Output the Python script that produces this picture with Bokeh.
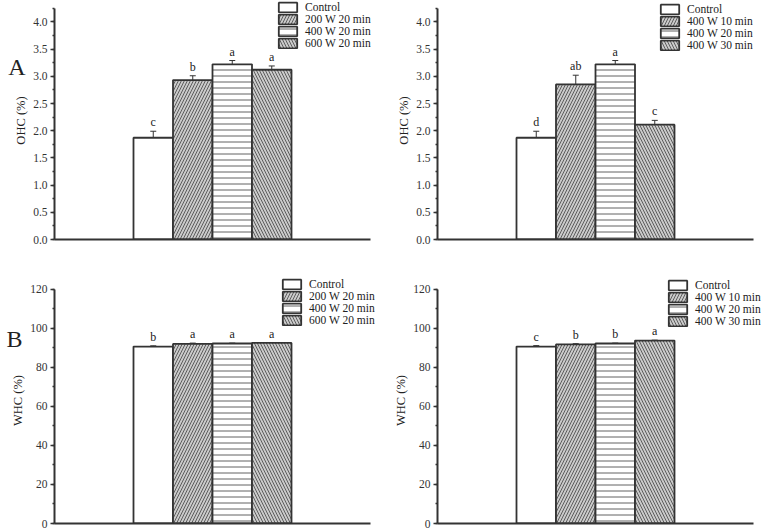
from bokeh.plotting import figure
from bokeh.models import (ColumnDataSource, Whisker, TeeHead, Legend, LegendItem,
                          SingleIntervalTicker, FixedTicker, Range1d, LinearAxis,
                          NumeralTickFormatter, CustomJSTickFormatter)
from bokeh.layouts import column, row
from bokeh.embed import file_html
from bokeh.resources import INLINE
from bokeh.core.properties import value

FONT = "Liberation Serif"

# ---------------- data ----------------
names_power = ["Control", "200 W 20 min", "400 W 20 min", "600 W 20 min"]
names_time = ["Control", "400 W 10 min", "400 W 20 min", "400 W 30 min"]

ohc_power = [1.87, 2.93, 3.22, 3.12]
ohc_power_err = [0.12, 0.08, 0.07, 0.07]
ohc_power_letters = ["c", "b", "a", "a"]

ohc_time = [1.87, 2.85, 3.22, 2.11]
ohc_time_err = [0.12, 0.17, 0.07, 0.08]
ohc_time_letters = ["d", "ab", "a", "c"]

whc_power = [90.6, 92.0, 92.2, 92.5]
whc_power_err = [0.4, 0.4, 0.2, 0.2]
whc_power_letters = ["b", "a", "a", "a"]

whc_time = [90.6, 91.7, 92.2, 93.7]
whc_time_err = [0.5, 0.4, 0.2, 0.2]
whc_time_letters = ["c", "b", "b", "a"]

ohc_axis_top = 4.25
whc_axis_top = 120

# ---------------- styles ----------------
FILLS = ["white", "#cacaca", "white", "#cacaca"]
HATCHES = [" ", "/", "-", "\\"]
DARK = "#333333"
PX_PER_BAR = 39.5


def make_panel(names, vals, errs, letters, ylabel, axis_top, y_end, interval, width, height,
               b_left, b_top, b_bottom, legend_loc, panel_label=None, panel_label_y=None,
               label_standoff=0):
    n = len(vals)
    idx = list(range(n))
    src = ColumnDataSource(dict(
        x=idx, top=vals,
        upper=[v + e for v, e in zip(vals, errs)],
        lower=[v - e for v, e in zip(vals, errs)],
        letters=letters, fill=FILLS[:n], hatch=HATCHES[:n],
    ))
    x_start = -2.5
    x_axis_end = n + 1.5
    frame_w = width - b_left
    x_end = x_start + frame_w / PX_PER_BAR
    p = figure(width=width, height=height, output_backend="svg", toolbar_location=None,
               x_range=Range1d(x_start, x_end), y_range=Range1d(0, y_end),
               min_border_left=b_left, min_border_right=0,
               min_border_top=b_top, min_border_bottom=b_bottom,
               background_fill_color="white", border_fill_color="white",
               outline_line_color=None)
    p.grid.visible = False

    r = p.vbar(x="x", top="top", width=1.0, source=src, fill_color="fill",
               line_color=DARK, line_width=1.8,
               hatch_pattern="hatch", hatch_color="#505050", hatch_scale=6, hatch_weight=0.9)

    whisk = Whisker(base="x", upper="upper", lower="lower", source=src,
                    line_color=DARK, line_width=1,
                    upper_head=TeeHead(size=6, line_color=DARK, line_width=1),
                    lower_head=TeeHead(size=6, line_color=DARK, line_width=1))
    p.add_layout(whisk)

    p.text(x="x", y="upper", text="letters", source=src, text_align="center",
           text_baseline="bottom", y_offset=-2, text_font=value(FONT),
           text_font_size="12px", text_color="#222222")

    # y axis
    yax = p.yaxis[0]
    yax.bounds = (0, axis_top)
    yax.ticker = SingleIntervalTicker(interval=interval, num_minor_ticks=2)
    yax.axis_label = ylabel
    yax.axis_label_text_font = FONT
    yax.axis_label_text_font_style = "normal"
    yax.axis_label_text_font_size = "12.5px"
    yax.axis_label_text_color = "#222222"
    yax.axis_label_standoff = 2
    yax.major_label_text_font = FONT
    yax.major_label_text_font_size = "11.5px"
    yax.major_label_text_color = "#333333"
    yax.major_label_standoff = 3
    yax.axis_line_color = DARK
    yax.axis_line_width = 2
    yax.major_tick_line_color = DARK
    yax.major_tick_line_width = 1.5
    yax.major_tick_out = 4
    yax.major_tick_in = 0
    yax.minor_tick_line_color = DARK
    yax.minor_tick_line_width = 1.5
    yax.minor_tick_out = 2
    yax.minor_tick_in = 0
    if interval < 1:
        yax.formatter = NumeralTickFormatter(format="0.0")

    # x axis: line only
    xax = p.xaxis[0]
    xax.bounds = (x_start, x_axis_end)
    xax.ticker = FixedTicker(ticks=[])
    xax.axis_line_color = DARK
    xax.axis_line_width = 2
    xax.major_tick_line_color = None
    xax.minor_tick_line_color = None
    xax.major_label_standoff = 0

    # panel letter (A / B) drawn as the single label of an outer left axis
    if panel_label:
        outer = LinearAxis(ticker=FixedTicker(ticks=[panel_label_y]),
                           formatter=CustomJSTickFormatter(code="return '%s';" % panel_label),
                           axis_line_color=None, major_tick_line_color=None,
                           minor_tick_line_color=None, major_label_standoff=label_standoff,
                           major_tick_out=0, major_tick_in=0, minor_tick_out=0, minor_tick_in=0,
                           major_label_text_font=FONT, major_label_text_font_size="24px",
                           major_label_text_color="#222222")
        p.add_layout(outer, "left")

    items = [LegendItem(label=names[i], renderers=[r], index=i) for i in range(n)]
    legend = Legend(items=items, location=legend_loc, glyph_width=23, glyph_height=12,
                    label_height=12, spacing=0, padding=0, margin=0, label_standoff=6,
                    label_text_font=FONT, label_text_font_size="11.5px",
                    label_text_color="#222222",
                    border_line_color=None, background_fill_alpha=0)
    p.add_layout(legend)
    return p


# top panels: frame top at 1 px, frame height 238 px -> y_end = 238 / 54.4 px per unit
p1 = make_panel(names_power, ohc_power, ohc_power_err, ohc_power_letters, "OHC (%)",
                ohc_axis_top, 4.375, 0.5, 380, 265, 54, 1, 26, (222, 190), "A", 3.17, -14)
p2 = make_panel(names_time, ohc_time, ohc_time_err, ohc_time_letters, "OHC (%)",
                ohc_axis_top, 4.375, 0.5, 381, 265, 57, 1, 26, (221, 188))
# bottom panels: frame top at 12 px, frame height 246 px -> y_end = 246 / 1.953
p3 = make_panel(names_power, whc_power, whc_power_err, whc_power_letters, "WHC (%)",
                whc_axis_top, 126, 20, 380, 264, 54, 12, 6, (226, 197), "B", 94.6, -14)
p4 = make_panel(names_time, whc_time, whc_time_err, whc_time_letters, "WHC (%)",
                whc_axis_top, 126, 20, 381, 264, 57, 12, 6, (229, 196))

layout = column(row(p1, p2), row(p3, p4))
open("out.html", "w").write(file_html(layout, INLINE))
